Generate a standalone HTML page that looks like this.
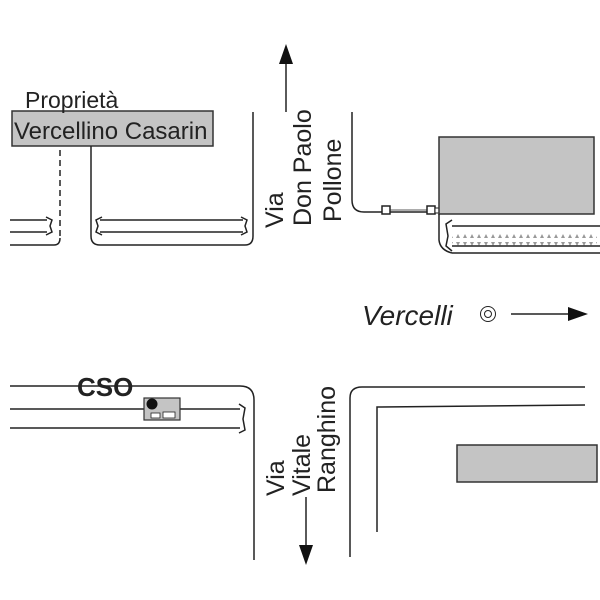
<!DOCTYPE html>
<html><head><meta charset="utf-8"><style>
html,body{margin:0;padding:0;background:#fff}
svg{display:block}
text{font-family:"Liberation Sans",Arial,sans-serif;fill:#222}
</style></head><body>
<svg width="600" height="600" viewBox="0 0 600 600" xmlns="http://www.w3.org/2000/svg">
<defs>
<pattern id="tri" x="0" y="0" width="7" height="24" patternUnits="userSpaceOnUse">
<path d="M1,2 L5,2 L3,6 Z M1,22 L5,22 L3,18 Z" fill="#999"/>
</pattern>
</defs>
<g fill="none" stroke="#222" stroke-width="1.5">
<rect x="12" y="111" width="201" height="35" fill="#c4c4c4" stroke="#333"/>
<line x1="60" y1="150" x2="60" y2="238" stroke-dasharray="6,4"/>
<line x1="10" y1="220" x2="47" y2="220"/>
<line x1="10" y1="232" x2="47" y2="232"/>
<path d="M46,217 L52,220 L50,226 L52,232 L46,235"/>
<path d="M10,245 L54,245 Q60,245 60,238"/>
<path d="M91,146 L91,236 Q91,245 100,245 L245,245 Q253,245 253,236 L253,112"/>
<line x1="100" y1="220" x2="243" y2="220"/>
<line x1="100" y1="232" x2="243" y2="232"/>
<path d="M102,217 L96,220 L98,226 L96,232 L102,235"/>
<path d="M241,217 L247,220 L245,226 L247,232 L241,235"/>
<line x1="286" y1="112" x2="286" y2="60"/>
<path d="M352,112 L352,200 Q352,212 364,212 L437,212"/>
<line x1="390" y1="210" x2="427" y2="210" stroke-width="0.8"/>
<rect x="382" y="206" width="8" height="8" fill="#fff"/>
<rect x="427" y="206" width="8" height="8" fill="#fff"/>
<rect x="435" y="208" width="4" height="5" fill="#fff" stroke-width="1"/>
<rect x="439" y="137" width="155" height="77" fill="#c4c4c4" stroke="#333"/>
<path d="M439,214 L439,240 Q440,250 452,253"/>
<rect x="452" y="226" width="145" height="20" fill="url(#tri)" stroke="none"/>
<line x1="452" y1="226" x2="600" y2="226"/>
<line x1="452" y1="246" x2="600" y2="246"/>
<line x1="452" y1="253" x2="600" y2="253"/>
<path d="M452,220 L446,224 L448,236 L446,246 L452,251"/>
<circle cx="488" cy="314" r="7.5" stroke-width="1"/>
<circle cx="488" cy="314" r="3.5" stroke-width="1"/>
<line x1="511" y1="314" x2="572" y2="314"/>
<path d="M10,386 L240,386 Q254,386 254,400 L254,560"/>
<line x1="10" y1="409" x2="240" y2="409"/>
<line x1="10" y1="428" x2="240" y2="428"/>
<path d="M239,404 L245,408 L243,419 L245,430 L239,433"/>
<rect x="144" y="398" width="36" height="22" fill="#c4c4c4" stroke="#333" stroke-width="1.2"/>
<rect x="151" y="413" width="9" height="5" fill="#fff" stroke-width="0.8"/>
<rect x="163" y="412" width="12" height="6" fill="#fff" stroke-width="0.8"/>
<line x1="306" y1="497" x2="306" y2="548"/>
<path d="M350,557 L350,398 Q350,387 362,387 L585,387"/>
<path d="M377,532 L377,407 L585,405"/>
<rect x="457" y="445" width="140" height="37" fill="#c4c4c4" stroke="#333"/>
</g>
<circle cx="152" cy="404" r="5.5" fill="#111"/>
<polygon points="286,44 279,64 293,64" fill="#111"/>
<polygon points="306,565 299,545 313,545" fill="#111"/>
<polygon points="588,314 568,307 568,321" fill="#111"/>
<text x="25" y="108" font-size="23">Proprietà</text>
<text x="14" y="139" font-size="24">Vercellino Casarin</text>
<text x="77" y="396" font-size="26" font-weight="bold">CSO</text>
<text x="362" y="325" font-size="28" font-style="italic">Vercelli</text>
<g font-size="25">
<text transform="translate(283,228) rotate(-90)">Via</text>
<text transform="translate(311,226) rotate(-90)">Don Paolo</text>
<text transform="translate(341,222) rotate(-90)">Pollone</text>
<text transform="translate(284,496) rotate(-90)">Via</text>
<text transform="translate(310,496) rotate(-90)">Vitale</text>
<text transform="translate(335,493) rotate(-90)">Ranghino</text>
</g>
</svg>
</body></html>
